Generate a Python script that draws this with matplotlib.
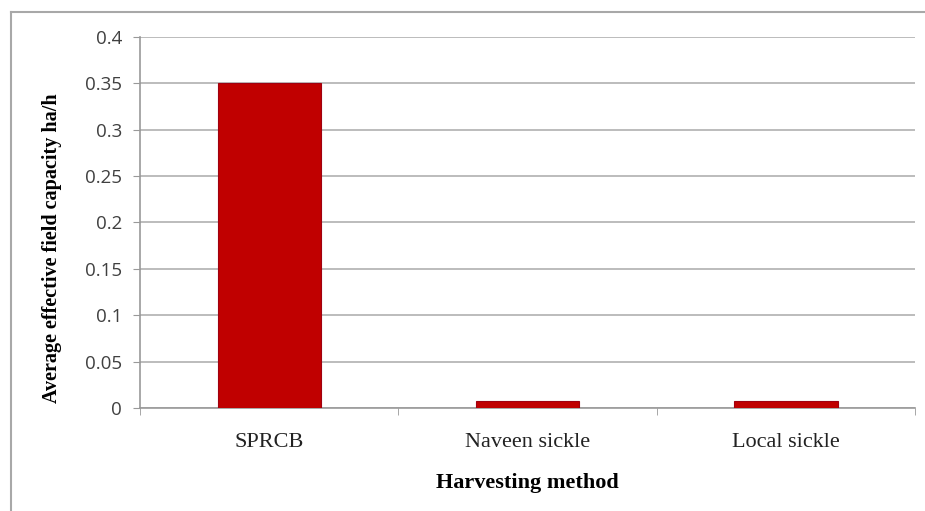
import matplotlib.pyplot as plt
from matplotlib.lines import Line2D

# data
methods = ['SPRCB', 'Naveen sickle', 'Local sickle']
capacity = [0.35, 0.007, 0.007]
yticks = [0, 0.05, 0.1, 0.15, 0.2, 0.25, 0.3, 0.35, 0.4]
ytick_labels = ['0', '0.05', '0.1', '0.15', '0.2', '0.25', '0.3', '0.35', '0.4']

fig = plt.figure(figsize=(9.25, 5.11), dpi=100)
ax = fig.add_axes([0.1514, 0.2016, 0.8378, 0.726])

x = list(range(len(methods)))
ax.bar(x, capacity, width=0.4, color='#c00000', edgecolor='#a00010', linewidth=0.8, zorder=3)

ax.set_xlim(-0.5, 2.5)
ax.set_ylim(0, 0.4)
ax.set_yticks(yticks)
ax.set_yticklabels(ytick_labels, fontsize=13.5, color='#404040', family='Open Sans')
ax.set_xticks(x)
ax.set_xticklabels(methods, fontsize=16, family='Liberation Serif', color='#222222')
ax.set_xticks([-0.5, 0.5, 1.5, 2.5], minor=True)
ax.tick_params(axis='x', which='major', length=0, pad=18)
ax.tick_params(axis='x', which='minor', length=5, color='#999999', direction='out')
ax.tick_params(axis='y', length=5, color='#999999', pad=8)

ax.grid(axis='y', color='#b0b0b0', linewidth=1.2, zorder=0)
for s in ['top', 'right']:
    ax.spines[s].set_visible(False)
ax.spines['left'].set_color('#999999')
ax.spines['bottom'].set_color('#999999')
ax.spines['left'].set_linewidth(1.2)
ax.spines['bottom'].set_linewidth(1.2)

ax.set_xlabel('Harvesting method', fontsize=16, fontweight='bold', family='Liberation Serif', labelpad=15)
ax.set_ylabel('Average effective field capacity ha/h', fontsize=14.5, fontweight='bold',
              family='Liberation Serif')
ax.yaxis.set_label_coords(-0.101, 0.43)

# outer chart border (top and left edges)
fig.add_artist(Line2D([11/925, 1], [1 - 12/511, 1 - 12/511], transform=fig.transFigure,
                      color='#a8a8a8', linewidth=1.5))
fig.add_artist(Line2D([11/925, 11/925], [0, 1 - 12/511], transform=fig.transFigure,
                      color='#a8a8a8', linewidth=1.5))

fig.savefig('out.png', dpi=100)
